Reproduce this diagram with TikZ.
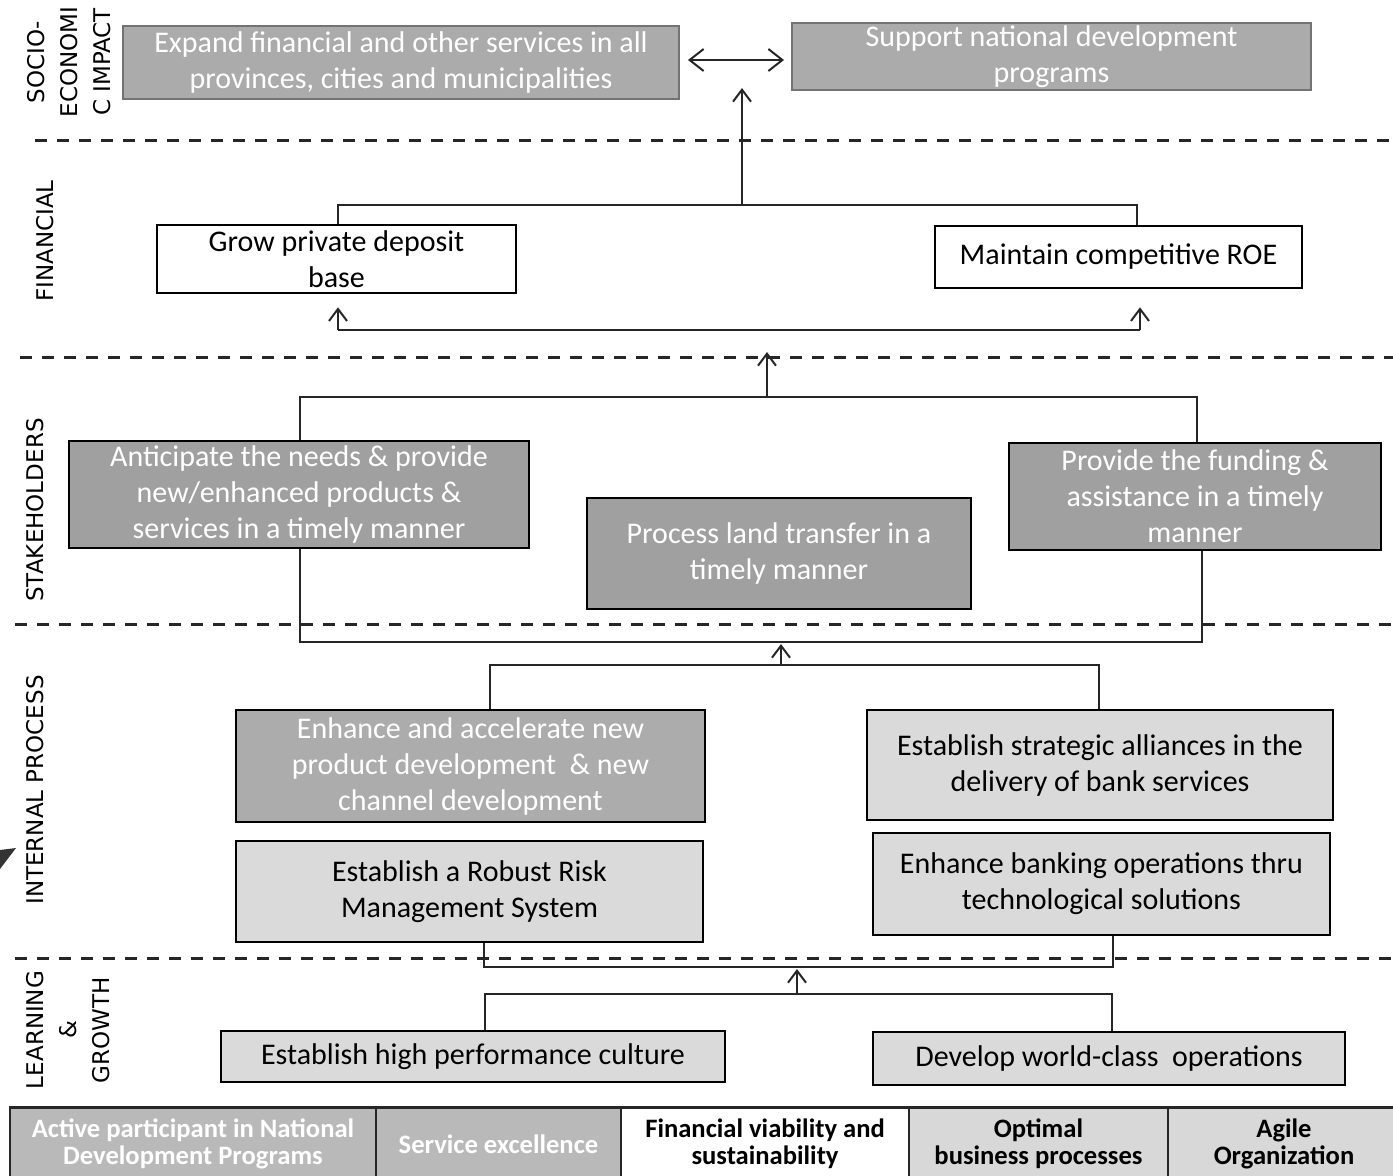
\documentclass[tikz,border=0pt]{standalone}
\usepackage{fontspec}
\setmainfont{Carlito}
\newfontfamily\lblfont{DejaVu Sans}
\usetikzlibrary{arrows.meta,calc}
\definecolor{dk}{HTML}{A0A0A0}
\definecolor{dkb}{HTML}{ACACAC}
\definecolor{so}{HTML}{ABABAB}
\definecolor{lt}{HTML}{DADADA}
\definecolor{tbA}{HTML}{B9B9B9}
\definecolor{tbB}{HTML}{D8D8D8}
\begin{document}
\begin{tikzpicture}[x=0.5pt,y=-0.5pt,
  sz/.style 2 args={minimum width=#1*0.5pt, minimum height=#2*0.5pt},
  base/.style={align=center, inner sep=0pt, font=\fontsize{15}{18}\selectfont, line width=1.3pt},
  sobox/.style={base, fill=so, draw=black!55, line width=1pt, text=white},
  dkbox/.style={base, fill=dk, draw=black, text=white},
  ltbox/.style={base, fill=lt, draw=black},
  whbox/.style={base, fill=white, draw=black},
  lbl/.style={font=\lblfont\fontsize{11.5}{16.5}\selectfont, rotate=90, align=center, inner sep=0pt},
  sep/.style={line width=1.5pt, dash pattern=on 6pt off 5pt, black!85},
  con/.style={line width=1pt, black!85},
  arr/.style={con, -{Straight Barb[length=6pt,width=9pt]}},
  dbl/.style={con, {Straight Barb[length=7pt,width=11pt]}-{Straight Barb[length=7pt,width=11pt]}},
  cell/.style={draw=black!85, line width=1pt, font=\bfseries\fontsize{13.3}{13.5}\selectfont, align=center, inner sep=0pt}
]
\useasboundingbox (0,0) rectangle (1393,1175);

% separators
\coordinate (d1a) at (35,140);  \coordinate (d1b) at (1393,140);
\coordinate (d2a) at (20,357);  \coordinate (d2b) at (1393,357);
\coordinate (d3a) at (15,624);  \coordinate (d3b) at (1393,624);
\coordinate (d4a) at (15,958);  \coordinate (d4b) at (1393,958);
\draw[sep] (d1a) -- (d1b);
\draw[sep] (d2a) -- (d2b);
\draw[sep] (d3a) -- (d3b);
\draw[sep] (d4a) -- (d4b);

% perspective labels
\node[lbl] (lsoc) at (69,62) {SOCIO-\\ECONOMI\\C IMPACT};
\node[lbl] (lfin) at (45,241) {FINANCIAL};
\node[lbl] (lsta) at (35,510) {STAKEHOLDERS};
\node[lbl] (lint) at (35,790) {INTERNAL PROCESS};
\node[lbl] (llg) at (68,1030) {LEARNING\\\&\\GROWTH};

% boxes
\node[sobox, sz={556}{73}] (soc1) at (401,62.5) {Expand financial and other services in all\\provinces, cities and municipalities};
\node[sobox, sz={519}{67}] (soc2) at (1051.5,56.5) {Support national development\\programs};
\node[whbox, sz={359}{68}] (grow) at (336.5,259) {Grow private deposit\\base};
\node[whbox, sz={367}{62}] (roe) at (1118.5,257) {Maintain competitive ROE};
\node[dkbox, sz={460}{107}] (antic) at (299,494.5) {Anticipate the needs \& provide\\new/enhanced products \&\\services in a timely manner};
\node[dkbox, sz={384}{111}] (land) at (779,553.5) {Process land transfer in a\\timely manner};
\node[dkbox, sz={372}{107}] (fund) at (1195,496.5) {Provide the funding \&\\assistance in a timely\\manner};
\node[dkbox, fill=dkb, sz={469}{112}] (enh) at (470.5,766) {Enhance and accelerate new\\product development \ \& new\\channel development};
\node[ltbox, sz={466}{110}] (alli) at (1100,765) {Establish strategic alliances in the\\delivery of bank services};
\node[ltbox, sz={467}{101}] (risk) at (469.5,891.5) {Establish a Robust Risk\\Management System};
\node[ltbox, sz={457}{102}] (tech) at (1101.5,884) {Enhance banking operations thru\\technological solutions};
\node[ltbox, sz={504}{51}] (hpc) at (473,1056.5) {Establish high performance culture};
\node[ltbox, sz={472}{53}] (world) at (1109,1058.5) {Develop world-class \ operations};

% socio-economic arrows
\draw[dbl] ([shift={(8,-2.5)}]soc1.east) -- ([shift={(-7,3.5)}]soc2.west);
\coordinate (jf) at (742,205);
\coordinate (jfl) at (338,205);
\coordinate (jfr) at (1137,205);
\coordinate (jft) at (742,88);
\draw[con] (grow.north -| jfl) -- (jfl) -- (jfr) -- (roe.north -| jfr);
\draw[arr] (jf) -- (jft);

% financial lower arrows
\coordinate (jbl) at (338,330);
\coordinate (jbr) at (1140,330);
\draw[con] (jbl) -- (jbr);
\draw[arr] (jbl) -- ($(grow.south -| jbl)+(0,13)$);
\draw[arr] (jbr) -- ($(roe.south -| jbr)+(0,18)$);

% stakeholders
\coordinate (jsl) at (300,397);
\coordinate (jsr) at (1197,397);
\coordinate (jsm) at (767,397);
\coordinate (jst) at (767,352);
\draw[con] (antic.north -| jsl) -- (jsl) -- (jsr) -- (fund.north -| jsr);
\draw[arr] (jsm) -- (jst);
\coordinate (jbl2) at (300,642);
\coordinate (jbr2) at (1202,642);
\draw[con] (antic.south -| jbl2) -- (jbl2) -- (jbr2) -- (fund.south -| jbr2);

% internal process
\coordinate (jil) at (490,665);
\coordinate (jir) at (1099,665);
\coordinate (jim) at (781,665);
\draw[con] (enh.north -| jil) -- (jil) -- (jir) -- (alli.north -| jir);
\draw[arr] (jim) -- ($(jim |- jbl2)+(0,2)$);
\coordinate (jkl) at (484,967);
\coordinate (jkr) at (1113,967);
\draw[con] (risk.south -| jkl) -- (jkl) -- (jkr) -- (tech.south -| jkr);

% learning & growth
\coordinate (jll) at (485,994);
\coordinate (jlr) at (1112,994);
\coordinate (jlm) at (797,994);
\draw[con] (hpc.north -| jll) -- (jll) -- (jlr) -- (world.north -| jlr);
\draw[arr] (jlm) -- ($(jlm |- jkl)+(0,2)$);

% bottom table
\node[cell, fill=tbA, text=white, sz={366}{72}] (c1) at (193,1144) {Active participant in National\\Development Programs};
\node[cell, fill=tbA, text=white, sz={245}{72}] (c2) at (498.5,1144) {Service excellence};
\node[cell, fill=white, sz={288}{72}] (c3) at (765,1144) {Financial viability and\\sustainability};
\node[cell, fill=tbB, sz={259}{72}] (c4) at (1038.5,1144) {Optimal\\business processes};
\node[cell, fill=tbB, sz={232}{72}] (c5) at (1284,1144) {Agile\\Organization};
\draw[line width=1.5pt, black!85] (c1.north west) -- (c5.north east);

% scan mark at left edge
\fill[black!80] (0,850) -- (16,848) -- (0,869) -- cycle;
\end{tikzpicture}
\end{document}
